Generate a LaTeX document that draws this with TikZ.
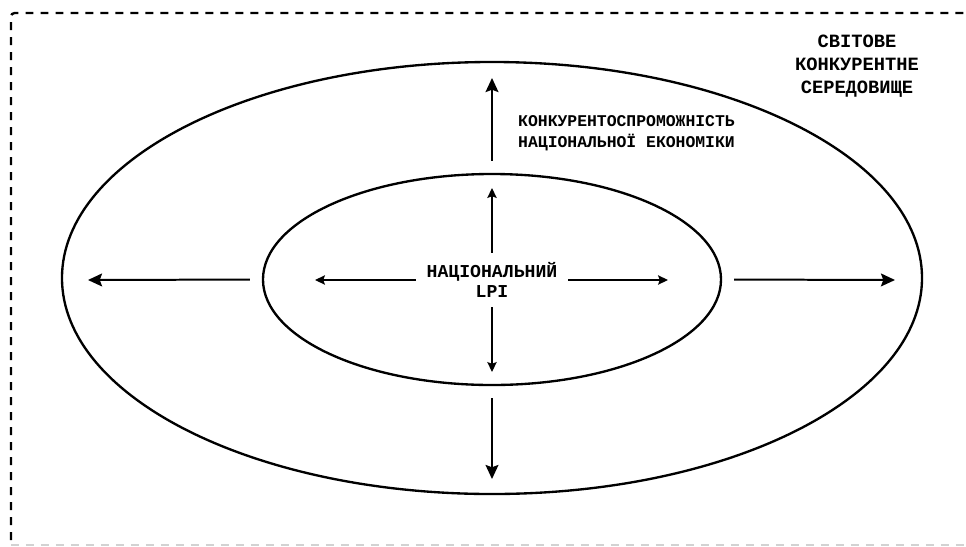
\documentclass[tikz,border=0pt]{standalone}
\usepackage{fontspec}
\setmonofont{Liberation Mono}
\usetikzlibrary{shapes.geometric,arrows.meta}

\begin{document}
\begin{tikzpicture}[x=0.03cm, y=-0.03cm,
    ring/.style = {draw, ellipse, line width=2pt, inner sep=0pt},
    lbl/.style 2 args = {font=\fontsize{#1}{#2}\selectfont\ttfamily\bfseries},
    bigarrow/.style = {line width=1.7pt, -{Stealth[length=12pt,width=11pt,inset=2pt]}, shorten <=0.36cm},
    smallarrow/.style = {line width=1pt, -{Stealth[length=8.5pt,width=8pt,inset=1.5pt]}}]

      \useasboundingbox (0,0) rectangle (966,546);

      % dashed frame
      \draw[line width=2pt, dash pattern=on 6.8pt off 6pt, rounded corners=3pt] (11,540) -- (11,13) -- (985,13);
      \draw[gray!35, line width=1.5pt, dash pattern=on 6.8pt off 6pt] (11,545) -- (966,545);

      \node[ring, minimum width=25.8cm, minimum height=12.96cm] (world) at (492,278) {};
      \node[ring, minimum width=13.74cm, minimum height=6.33cm] (inner) at (492,279.5) {};

      \node[lbl={16}{19.5}, align=center] (worldlbl) at (857,66) {СВІТОВЕ\\КОНКУРЕНТНЕ\\СЕРЕДОВИЩЕ};
      \node[lbl={14}{18}, align=left, anchor=west, inner sep=0pt] (econ) at (518,133) {КОНКУРЕНТОСПРОМОЖНІСТЬ\\НАЦІОНАЛЬНОЇ ЕКОНОМІКИ};
      \node[lbl={15.5}{17}, align=center, inner xsep=9pt, inner ysep=8pt] (lpi) at (492,280) {НАЦІОНАЛЬНИЙ\\LPI};

      % arrow tips
      \coordinate (n1) at (492,188);
      \coordinate (s1) at (492,372);
      \coordinate (w1) at (315,280);
      \coordinate (e1) at (668,280);
      \coordinate (n2) at (492,78);
      \coordinate (s2) at (492,479);
      \coordinate (w2) at (88,280);
      \coordinate (e2) at (895,280);

      \draw[smallarrow] (lpi.north) -- (n1);
      \draw[smallarrow] (lpi.south) -- (s1);
      \draw[smallarrow] (lpi.west) -- (w1);
      \draw[smallarrow] (lpi.east) -- (e1);

      \draw[bigarrow] (inner.north) -- (n2);
      \draw[bigarrow] (inner.south) -- (s2);
      \draw[bigarrow] (inner.west) -- (w2);
      \draw[bigarrow] (inner.east) -- (e2);
    \end{tikzpicture}
\end{document}
